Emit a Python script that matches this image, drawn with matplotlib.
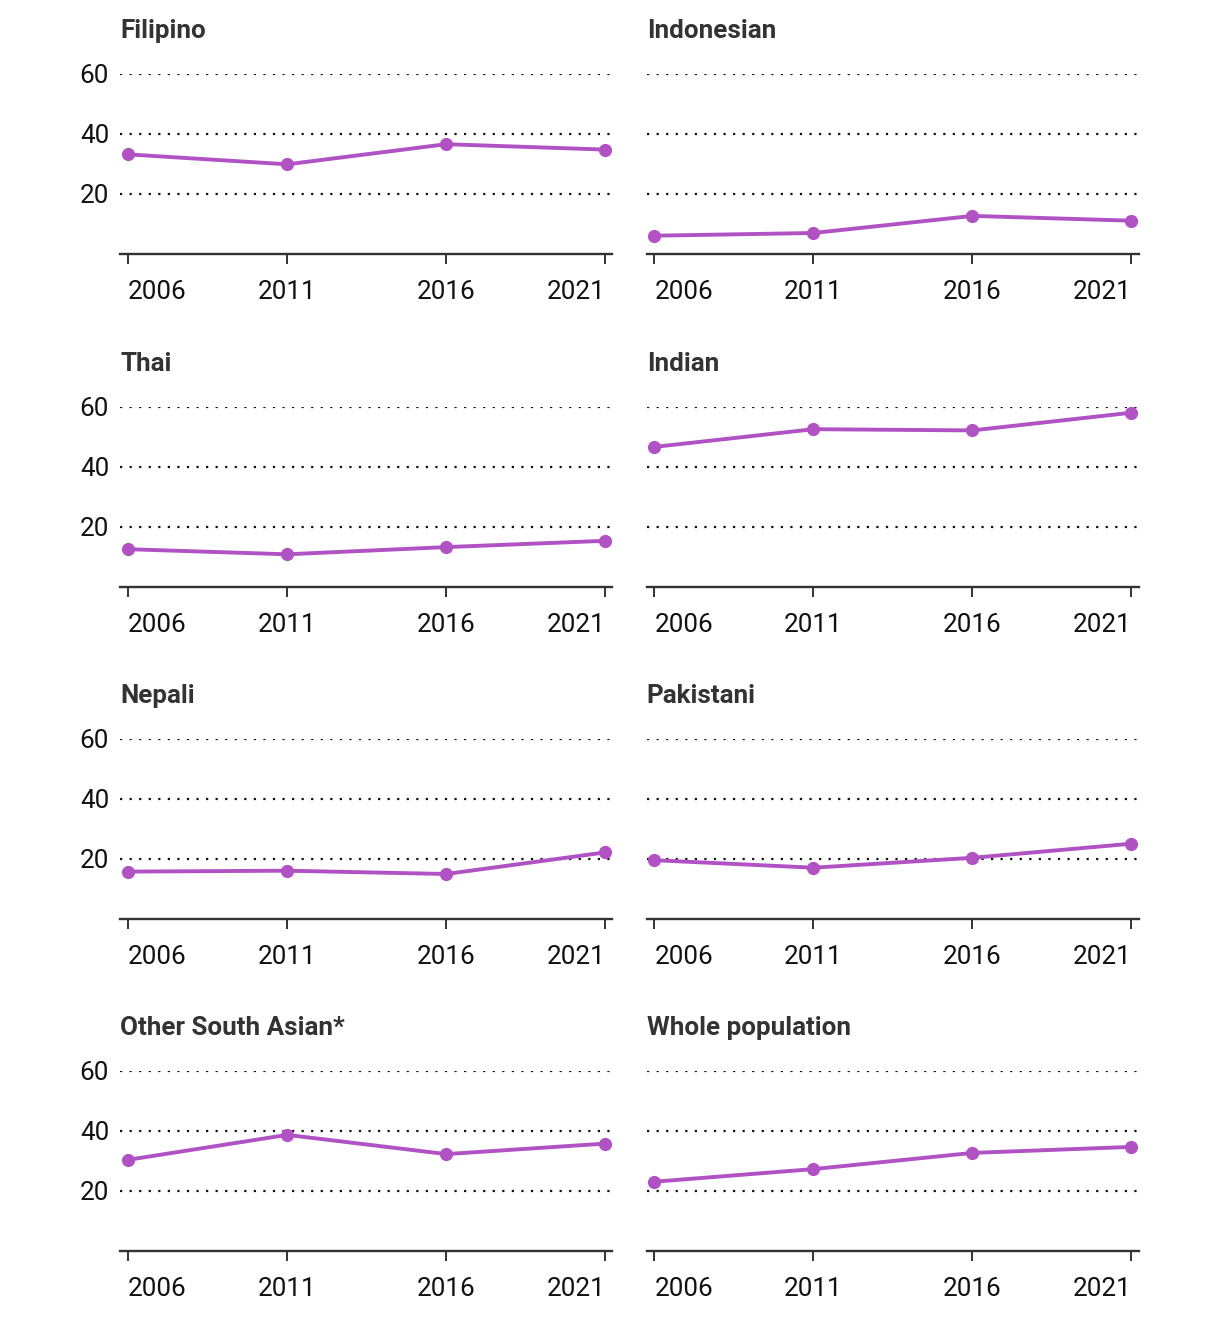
import matplotlib
matplotlib.use('Agg')
import matplotlib.pyplot as plt

plt.rcParams['font.family'] = ['Roboto', 'DejaVu Sans']

years = [2006, 2011, 2016, 2021]
year_labels = ["2006", "2011", "2016", "2021"]
groups = ["Filipino", "Indonesian", "Thai", "Indian",
          "Nepali", "Pakistani", "Other South Asian*", "Whole population"]
filipino = [33.1, 29.8, 36.5, 34.7]
indonesian = [6.0, 6.9, 12.6, 11.0]
thai = [12.5, 10.8, 13.2, 15.3]
indian = [46.6, 52.5, 52.1, 58.0]
nepali = [15.7, 16.0, 14.9, 22.1]
pakistani = [19.5, 17.0, 20.3, 25.0]
other_south_asian = [30.3, 38.6, 32.2, 35.7]
whole_population = [23.0, 27.2, 32.6, 34.6]
series = [filipino, indonesian, thai, indian, nepali, pakistani,
          other_south_asian, whole_population]
y_ticks = [20, 40, 60]

W, H = 1220, 1320
fig = plt.figure(figsize=(W / 100, H / 100), dpi=100)

purple = '#b052c4'
lefts = [120.5 / W, 646.8 / W]
ax_w = 492 / W
baselines = [253.7, 586.7, 918.7, 1250.7]
ax_h = 180 / H
fs = 18.7

for i, (name, vals) in enumerate(zip(groups, series)):
    row, col = divmod(i, 2)
    ax = fig.add_axes([lefts[col], 1 - baselines[row] / H, ax_w, ax_h])
    ax.plot(years, vals, color=purple, lw=2.8, marker='o', ms=9.5,
            markeredgewidth=0, clip_on=False, zorder=3)
    ax.set_xlim(2005.76, 2021.23)
    ax.set_ylim(0, 60)
    ax.set_yticks(y_ticks)
    ax.yaxis.grid(True, linestyle=(0, (1, 3.3)), color='#111111', lw=1.6)
    ax.set_axisbelow(True)
    for s in ['top', 'right', 'left']:
        ax.spines[s].set_visible(False)
    ax.spines['bottom'].set_color('#333333')
    ax.spines['bottom'].set_linewidth(1.7)
    ax.tick_params(axis='y', length=0, pad=8.2, labelsize=fs,
                   labelcolor='#111111', labelleft=(col == 0))
    ax.tick_params(axis='x', length=7.2, width=1.4, color='#333333',
                   pad=11.5, labelsize=fs, labelcolor='#111111')
    ax.set_xticks(years)
    ax.set_xticklabels(year_labels)
    lbls = ax.get_xticklabels()
    lbls[0].set_ha('left')
    lbls[-1].set_ha('right')
    ax.text(0, 1 + 35.5 / 180, name, transform=ax.transAxes, fontsize=fs,
            fontweight='bold', color='#333333', va='baseline', ha='left')

fig.savefig('out.png', dpi=100)
